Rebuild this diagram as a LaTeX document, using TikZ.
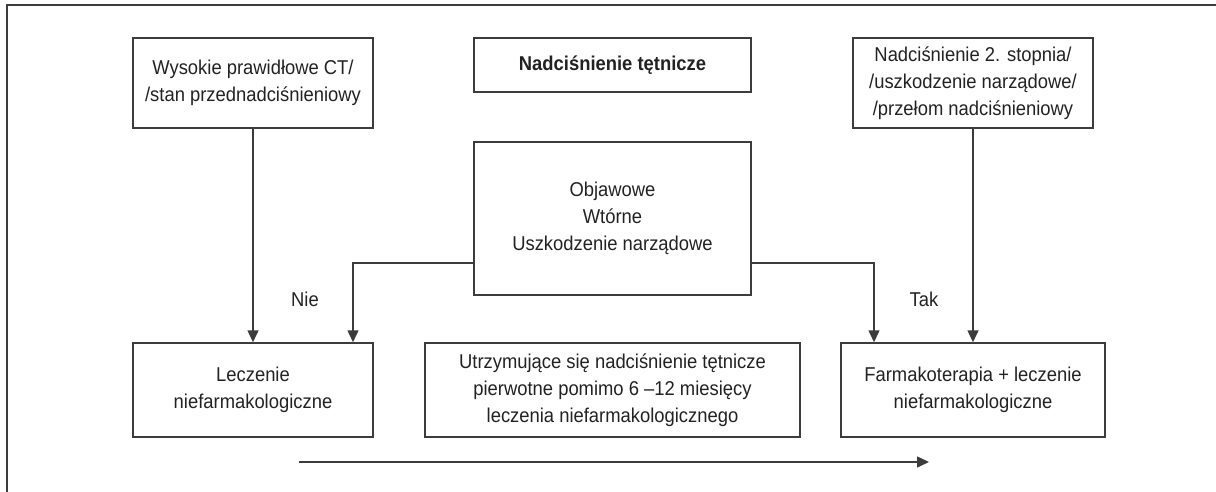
\documentclass[tikz,border=0pt]{standalone}
\usepackage{fontspec}
\setmainfont[FakeStretch=0.92]{Liberation Sans}
\usetikzlibrary{arrows.meta}
\definecolor{ln}{HTML}{3C3C3C}
\definecolor{tx}{HTML}{222222}
\tikzset{
  box/.style={draw=ln, line width=1.5pt, inner sep=0pt, align=center, text=tx,
    font=\fontsize{20}{27}\selectfont},
  lbl/.style={text=tx, font=\fontsize{20}{27}\selectfont, inner sep=0pt},
  conn/.style={draw=ln, line width=1.5pt, -{Triangle[width=11pt,length=12pt]}},
}
\begin{document}
\begin{tikzpicture}[x=1pt,y=-1pt]
\useasboundingbox (0,0) rectangle (1216,492);
% frame
\draw[ln, line width=1.8pt] (7,492) -- (7,5) -- (1216,5);
% boxes
\node[box, minimum width=240pt, minimum height=90pt] (a) at (253,83) {Wysokie prawidłowe CT/\\/stan przednadciśnieniowy};
\node[box, minimum width=277pt, minimum height=54pt, font=\fontsize{20}{27}\selectfont\bfseries] (t) at (612.5,65) {Nadciśnienie tętnicze};
\node[box, minimum width=240pt, minimum height=90pt] (c) at (973,83) {Nadciśnienie 2. stopnia/\\/uszkodzenie narządowe/\\/przełom nadciśnieniowy};
\node[box, minimum width=277pt, minimum height=153pt] (m) at (612.5,218.5) {Objawowe\\Wtórne\\Uszkodzenie narządowe};
\node[box, minimum width=240pt, minimum height=94pt] (l) at (253,390) {Leczenie\\niefarmakologiczne};
\node[box, minimum width=375pt, minimum height=94pt] (p) at (612.5,390) {Utrzymujące się nadciśnienie tętnicze\\pierwotne pomimo 6 –12 miesięcy\\leczenia niefarmakologicznego};
\node[box, minimum width=264pt, minimum height=94pt] (f) at (973,390) {Farmakoterapia + leczenie\\niefarmakologiczne};
% coordinates
\coordinate (nl) at (353,263);
\coordinate (nr) at (874,263);
\coordinate (s) at (299,462);
\coordinate (e) at (929,462);
% connectors
\draw[conn] (a.south) -- (l.north);
\draw[conn] (m.west |- nl) -- (nl) -- (nl |- l.north);
\draw[conn] (m.east |- nr) -- (nr) -- (nr |- f.north);
\draw[conn] (c.south) -- (f.north);
\draw[conn] (s) -- (e);
% labels
\node[lbl] (nie) at (305,299) {Nie};
\node[lbl] (tak) at (924,299) {Tak};
\end{tikzpicture}
\end{document}
